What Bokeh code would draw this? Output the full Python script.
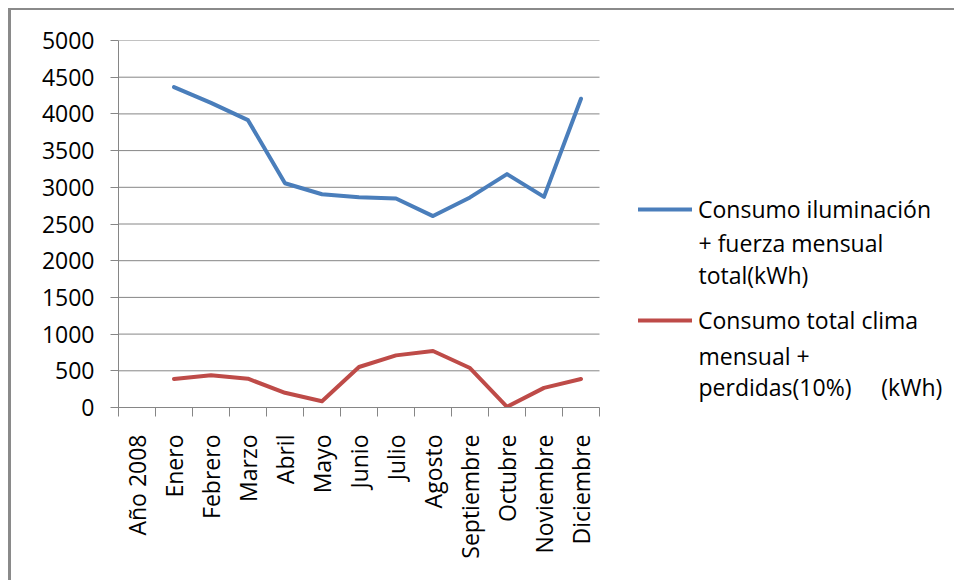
import math

from bokeh.plotting import figure
from bokeh.models import Range1d, FixedTicker, Legend, LegendItem, Label
from bokeh.embed import file_html
from bokeh.resources import INLINE

# Monthly energy consumption, year 2008 (kWh)
categories = ["Año 2008", "Enero", "Febrero", "Marzo", "Abril", "Mayo", "Junio",
              "Julio", "Agosto", "Septiembre", "Octubre", "Noviembre", "Diciembre"]
months = categories[1:]
iluminacion_fuerza = [4365, 4150, 3915, 3055, 2905, 2865, 2848, 2608, 2862, 3180, 2870, 4207]
clima_perdidas = [389, 440, 392, 200, 86, 552, 710, 770, 538, 9, 267, 389]
y_ticks = list(range(0, 5001, 500))

label_iluminacion = ["Consumo iluminación", "+ fuerza mensual", "total(kWh)"]
label_clima = ["Consumo total clima", "mensual +",
               "perdidas(10%)" + "\u00a0" * 5 + "(kWh)"]

FONT = "Open Sans"
FONT_SIZE = "23px"
GRAY = "#868686"
BLUE = "#4A7EBB"
RED = "#BE4B48"

W, H = 946, 572
LEFT, TOP, BOTTOM = 107, 30, 175
PLOT_W = 481                      # width of the category area in pixels
n_cat = len(categories)
x_start = -0.5
x_end = x_start + (W - LEFT) * n_cat / PLOT_W   # free room on the right for the key
FRAME_H = H - TOP - BOTTOM

month_x = [categories.index(m) for m in months]

p = figure(width=W, height=H, output_backend="svg", toolbar_location=None,
           x_range=Range1d(x_start, x_end), y_range=Range1d(0, 5000),
           min_border_left=LEFT, min_border_right=0, min_border_top=TOP,
           min_border_bottom=BOTTOM,
           styles={"margin-left": "8px", "margin-top": "8px",
                   "border-left": "3px solid #8a8a8a",
                   "border-top": "2px solid #8a8a8a"})
p.outline_line_color = None
p.background_fill_color = "white"
p.border_fill_color = "white"
p.xgrid.grid_line_color = None
p.ygrid.grid_line_color = None

# horizontal grid lines across the category area only
p.segment(x0=[x_start] * len(y_ticks), y0=y_ticks,
          x1=[n_cat - 0.5] * len(y_ticks), y1=y_ticks,
          line_color=GRAY, line_width=1)

r_ilum = p.line(month_x, iluminacion_fuerza, line_color=BLUE, line_width=4,
                line_join="round", line_cap="round")
r_clima = p.line(month_x, clima_perdidas, line_color=RED, line_width=4,
                 line_join="round", line_cap="round")

# x axis: labels centred on each category, tick marks on category boundaries
xa = p.xaxis[0]
xa.bounds = (x_start, n_cat - 0.5)
xa.ticker = FixedTicker(ticks=list(range(n_cat)),
                        minor_ticks=[i - 0.5 for i in range(n_cat + 1)])
xa.major_label_overrides = {i: c for i, c in enumerate(categories)}
xa.major_label_orientation = math.pi / 2
xa.major_tick_out = 0
xa.major_tick_in = 0
xa.minor_tick_out = 9
xa.minor_tick_in = 0
xa.minor_tick_line_color = GRAY
xa.axis_line_color = GRAY
xa.major_label_standoff = 18
xa.major_label_text_font = FONT
xa.major_label_text_font_size = FONT_SIZE
xa.major_label_text_color = "black"

ya = p.yaxis[0]
ya.ticker = FixedTicker(ticks=y_ticks, minor_ticks=[])
ya.major_tick_out = 8
ya.major_tick_in = 0
ya.major_tick_line_color = GRAY
ya.axis_line_color = GRAY
ya.major_label_standoff = 16
ya.major_label_text_font = FONT
ya.major_label_text_font_size = FONT_SIZE
ya.major_label_text_color = "black"


# key: line sample + first line through a Legend, the rest as labels
def key_entry(renderer, lines, legend_y, rest_y):
    lg = Legend(items=[LegendItem(label=lines[0], renderers=[renderer])],
                location=(520, legend_y),
                padding=0, margin=0, spacing=0,
                border_line_color=None, background_fill_alpha=0,
                glyph_width=54, glyph_height=22, label_height=22,
                label_standoff=6,
                label_text_font=FONT, label_text_font_size=FONT_SIZE,
                label_text_color="black")
    p.add_layout(lg)
    for line, y in zip(lines[1:], rest_y):
        p.add_layout(Label(x=580, y=y, x_units="screen", y_units="screen",
                           text=line, text_font=FONT, text_font_size=FONT_SIZE,
                           text_color="black", text_baseline="alphabetic"))


key_entry(r_ilum, label_iluminacion, 182, [165, 133])
key_entry(r_clima, label_clima, 71, [52, 21])

open("out.html", "w").write(file_html(p, INLINE))
